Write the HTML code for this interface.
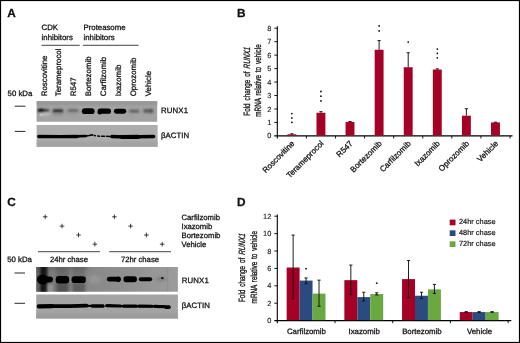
<!DOCTYPE html>
<html lang="en"><head><meta charset="utf-8"><title>RUNX1 figure</title>
<style>html,body{margin:0;padding:0;background:#fff;}body{width:520px;height:343px;overflow:hidden;}svg{display:block;}text{font-family:"Liberation Sans", Arial, Helvetica, sans-serif;fill:#111;stroke:#111;stroke-width:0.28px;text-rendering:geometricPrecision;}text.t{stroke-width:0.1px;}text.l{stroke-width:0.18px;}text.n{stroke-width:0.32px;}</style></head><body>
<svg width="520" height="343" viewBox="0 0 520 343">
<defs>
<filter id="b1" filterUnits="userSpaceOnUse" x="0" y="0" width="520" height="343"><feGaussianBlur stdDeviation="0.9"/></filter>
<filter id="b2" filterUnits="userSpaceOnUse" x="0" y="0" width="520" height="343"><feGaussianBlur stdDeviation="1.5"/></filter>
<filter id="b3" filterUnits="userSpaceOnUse" x="0" y="0" width="520" height="343"><feGaussianBlur stdDeviation="0.7"/></filter>
<filter id="b0" filterUnits="userSpaceOnUse" x="0" y="0" width="520" height="343"><feGaussianBlur stdDeviation="0.55"/></filter>
<linearGradient id="gC1" x1="0" x2="1" y1="0" y2="0"><stop offset="0" stop-color="#747474"/><stop offset="0.3" stop-color="#868686"/><stop offset="0.6" stop-color="#8e8e8e"/><stop offset="1" stop-color="#9c9c9c"/></linearGradient>
<clipPath id="cA1"><rect x="36.6" y="101.3" width="120.6" height="20.4"/></clipPath>
<clipPath id="cA2"><rect x="36.6" y="124.9" width="121" height="21.9"/></clipPath>
<clipPath id="cC1"><rect x="36.2" y="266.9" width="141.7" height="24.8"/></clipPath>
<clipPath id="cC2"><rect x="36.2" y="294.4" width="141.7" height="24"/></clipPath>
</defs>
<rect x="0" y="0" width="520" height="343" fill="#fff"/>
<rect x="0.55" y="0.55" width="518.9" height="341.9" fill="none" stroke="#000" stroke-width="1.1"/>
<text x="7.2" y="16.9" font-size="11.8" text-anchor="start" font-weight="bold" fill="#000" stroke="#000" stroke-width="0.5">A</text>
<text x="237.0" y="16.9" font-size="11.8" text-anchor="start" font-weight="bold" fill="#000" stroke="#000" stroke-width="0.5">B</text>
<text x="7.2" y="206.4" font-size="11.8" text-anchor="start" font-weight="bold" fill="#000" stroke="#000" stroke-width="0.5">C</text>
<text x="237.0" y="206.4" font-size="11.8" text-anchor="start" font-weight="bold" fill="#000" stroke="#000" stroke-width="0.5">D</text>
<text x="41.6" y="30.4" font-size="7.8" text-anchor="start" >CDK</text>
<text x="41.6" y="40" font-size="7.8" text-anchor="start" >inhibitors</text>
<text x="83.5" y="30.4" font-size="7.8" text-anchor="start" >Proteasome</text>
<text x="83.5" y="40" font-size="7.8" text-anchor="start" >inhibitors</text>
<path d="M41.6 45.3H79.7M82.9 45.3H138.5" stroke="#111" stroke-width="0.8" fill="none"/>
<text transform="translate(46.60 96.3) rotate(-90)" font-size="7.9">Roscovitine</text>
<text transform="translate(61.45 96.3) rotate(-90)" font-size="7.9">Terameprocol</text>
<text transform="translate(76.30 96.3) rotate(-90)" font-size="7.9">R547</text>
<text transform="translate(91.15 96.3) rotate(-90)" font-size="7.9">Bortezomib</text>
<text transform="translate(106.00 96.3) rotate(-90)" font-size="7.9">Carfilzomib</text>
<text transform="translate(120.85 96.3) rotate(-90)" font-size="7.9">Ixazomib</text>
<text transform="translate(135.70 96.3) rotate(-90)" font-size="7.9">Oprozomib</text>
<text transform="translate(150.55 96.3) rotate(-90)" font-size="7.9">Vehicle</text>
<text x="7.6" y="96.0" font-size="7.8" text-anchor="start" >50 kDa</text>
<path d="M14.8 106.2H25.4M14.8 131.4H25.4" stroke="#111" stroke-width="0.9" fill="none"/>
<text x="161" y="113.2" font-size="7.8" text-anchor="start" letter-spacing="0.15">RUNX1</text>
<text x="161" y="138.1" font-size="7.8" text-anchor="start" letter-spacing="0.05">&#946;ACTIN</text>
<g clip-path="url(#cA1)">
<rect x="36" y="100" width="123" height="23" fill="#a2a2a2"/>
<rect x="36" y="99" width="123" height="6" fill="#969696" filter="url(#b2)"/>
<rect x="38.10" y="109.20" width="10.80" height="2.80" rx="1.40" fill="#1c1c1c" opacity="0.9" filter="url(#b1)"/>
<rect x="38.25" y="109.10" width="5.50" height="2.80" rx="1.40" fill="#000" opacity="0.85" filter="url(#b1)"/>
<rect x="39.00" y="112.35" width="11.00" height="3.50" rx="1.75" fill="#c4c4c4" opacity="0.8" filter="url(#b2)"/>
<rect x="40.40" y="114.20" width="1.60" height="1.40" rx="0.70" fill="#e8e8e8" opacity="0.9" filter="url(#b0)"/>
<rect x="52.70" y="109.30" width="10.60" height="3.20" rx="1.60" fill="#1e1e1e" opacity="0.9" filter="url(#b1)"/>
<rect x="53.00" y="112.80" width="10.00" height="3.00" rx="1.50" fill="#808080" opacity="0.6" filter="url(#b2)"/>
<rect x="67.60" y="109.30" width="10.80" height="2.60" rx="1.30" fill="#505050" opacity="0.8" filter="url(#b1)"/>
<rect x="68.00" y="112.30" width="10.00" height="3.00" rx="1.50" fill="#909090" opacity="0.5" filter="url(#b2)"/>
<rect x="81.80" y="108.30" width="12.80" height="5.80" rx="2.90" fill="#000" opacity="1" filter="url(#b3)"/>
<rect x="97.60" y="108.60" width="13.40" height="5.20" rx="2.60" fill="#000" opacity="1" filter="url(#b3)"/>
<rect x="97.60" y="110.60" width="4.40" height="3.80" rx="1.90" fill="#000" opacity="1" filter="url(#b3)"/>
<rect x="113.90" y="108.75" width="12.40" height="4.90" rx="2.45" fill="#000" opacity="1" filter="url(#b3)"/>
<rect x="129.00" y="109.70" width="10.40" height="2.80" rx="1.40" fill="#484848" opacity="0.8" filter="url(#b1)"/>
<rect x="143.20" y="109.10" width="10.00" height="3.60" rx="1.80" fill="#484848" opacity="0.8" filter="url(#b1)"/>
<rect x="149.75" y="109.40" width="3.50" height="3.00" rx="1.50" fill="#404040" opacity="0.5" filter="url(#b1)"/>
</g>
<g clip-path="url(#cA2)">
<rect x="36" y="124" width="123" height="24" fill="#adadad"/>
<rect x="36" y="141" width="123" height="8" fill="#a2a2a2" filter="url(#b2)"/>
<g filter="url(#b0)" stroke="#000" fill="none" stroke-linecap="round" stroke-linejoin="round">
<path d="M38.8 136.5 L60 136.6 L77 136.5" stroke-width="3.4"/>
<path d="M75 136.4 L86 136" stroke-width="2.6"/>
<path d="M85 136 L89 135.5 L92.6 134.9" stroke-width="1.7"/>
<path d="M94.3 135.6 L95.3 135.7 M97.8 136.1 L99.4 136.2 M101.5 136.2 L104.5 136.3 M106.5 136.3 L109.5 136.4" stroke-width="1.5"/>
<path d="M111.8 136.6 L125 137 L140 136.8 L153.6 136.6" stroke-width="3.5"/>
<path d="M122 137 L138 136.9" stroke-width="4.2"/>
</g>
</g>
<path d="M277.30 26.2V138.50" stroke="#000" stroke-width="1.1" fill="none"/>
<path d="M274.30 135.90H512.5" stroke="#000" stroke-width="1.1" fill="none"/>
<path d="M274.30 122.44H277.30M274.30 108.98H277.30M274.30 95.52H277.30M274.30 82.06H277.30M274.30 68.60H277.30M274.30 55.14H277.30M274.30 41.68H277.30M274.30 28.22H277.30M306.39 135.90V138.50M335.48 135.90V138.50M364.57 135.90V138.50M393.66 135.90V138.50M422.75 135.90V138.50M451.84 135.90V138.50M480.93 135.90V138.50M510.02 135.90V138.50" stroke="#000" stroke-width="0.9" fill="none"/>
<text x="271.3" y="138.45000000000002" font-size="7.4" text-anchor="end" class="t">0</text>
<text x="271.3" y="124.99" font-size="7.4" text-anchor="end" class="t">1</text>
<text x="271.3" y="111.53" font-size="7.4" text-anchor="end" class="t">2</text>
<text x="271.3" y="98.07000000000001" font-size="7.4" text-anchor="end" class="t">3</text>
<text x="271.3" y="84.61" font-size="7.4" text-anchor="end" class="t">4</text>
<text x="271.3" y="71.14999999999999" font-size="7.4" text-anchor="end" class="t">5</text>
<text x="271.3" y="57.69" font-size="7.4" text-anchor="end" class="t">6</text>
<text x="271.3" y="44.230000000000004" font-size="7.4" text-anchor="end" class="t">7</text>
<text x="271.3" y="30.77" font-size="7.4" text-anchor="end" class="t">8</text>
<text transform="translate(249.6 115.70) rotate(-90) scale(0.697 1)" font-size="9.1" class="n" word-spacing="1.6">Fold change of</text>
<text transform="translate(249.6 68.70) rotate(-90) scale(0.697 1) skewX(-8)" font-size="9.1" font-style="italic" class="n">RUNX1</text>
<text transform="translate(260.7 80.5) rotate(-90) scale(0.697 1)" font-size="9.1" text-anchor="middle" class="n" word-spacing="1.6">mRNA relative to vehicle</text>
<rect x="287.40" y="134.28" width="8.90" height="1.12" fill="#a50026"/>
<path d="M291.85 134.28V133.75M290.25 133.75H293.45" stroke="#111" stroke-width="0.95" fill="none"/>
<circle cx="291.85" cy="122.44" r="0.9" fill="#111"/>
<circle cx="291.85" cy="118.00" r="0.9" fill="#111"/>
<circle cx="291.85" cy="113.56" r="0.9" fill="#111"/>
<text transform="translate(295.05 144.1) rotate(-45)" font-size="8.05" text-anchor="end">Roscovitine</text>
<rect x="316.49" y="112.75" width="8.90" height="22.65" fill="#a50026"/>
<path d="M320.94 112.75V111.67M319.33 111.67H322.54" stroke="#111" stroke-width="0.95" fill="none"/>
<circle cx="320.94" cy="100.90" r="0.9" fill="#111"/>
<circle cx="320.94" cy="96.19" r="0.9" fill="#111"/>
<circle cx="320.94" cy="91.48" r="0.9" fill="#111"/>
<text transform="translate(324.13 144.1) rotate(-45)" font-size="8.05" text-anchor="end">Terameprocol</text>
<rect x="345.57" y="122.04" width="8.90" height="13.36" fill="#a50026"/>
<path d="M350.02 122.04V121.50M348.42 121.50H351.62" stroke="#111" stroke-width="0.95" fill="none"/>
<text transform="translate(353.22 144.1) rotate(-45)" font-size="8.05" text-anchor="end">R547</text>
<rect x="374.67" y="49.76" width="8.90" height="85.64" fill="#a50026"/>
<path d="M379.12 49.76V40.60M377.51 40.60H380.72" stroke="#111" stroke-width="0.95" fill="none"/>
<circle cx="379.12" cy="30.91" r="0.9" fill="#111"/>
<circle cx="379.12" cy="25.93" r="0.9" fill="#111"/>
<text transform="translate(382.31 144.1) rotate(-45)" font-size="8.05" text-anchor="end">Bortezomib</text>
<rect x="403.76" y="67.25" width="8.90" height="68.15" fill="#a50026"/>
<path d="M408.21 67.25V52.72M406.61 52.72H409.81" stroke="#111" stroke-width="0.95" fill="none"/>
<circle cx="408.21" cy="42.08" r="0.9" fill="#111"/>
<text transform="translate(411.41 144.1) rotate(-45)" font-size="8.05" text-anchor="end">Carfilzomib</text>
<rect x="432.85" y="69.54" width="8.90" height="65.86" fill="#a50026"/>
<path d="M437.30 69.54V68.87M435.69 68.87H438.90" stroke="#111" stroke-width="0.95" fill="none"/>
<circle cx="437.30" cy="57.83" r="0.9" fill="#111"/>
<circle cx="437.30" cy="53.39" r="0.9" fill="#111"/>
<circle cx="437.30" cy="49.08" r="0.9" fill="#111"/>
<text transform="translate(440.50 144.1) rotate(-45)" font-size="8.05" text-anchor="end">Ixazomib</text>
<rect x="461.94" y="115.71" width="8.90" height="19.69" fill="#a50026"/>
<path d="M466.38 115.71V108.71M464.78 108.71H467.99" stroke="#111" stroke-width="0.95" fill="none"/>
<text transform="translate(469.58 144.1) rotate(-45)" font-size="8.05" text-anchor="end">Oprozomib</text>
<rect x="491.03" y="122.44" width="8.90" height="12.96" fill="#a50026"/>
<path d="M495.48 122.44V122.17M493.88 122.17H497.08" stroke="#111" stroke-width="0.95" fill="none"/>
<text transform="translate(498.68 144.1) rotate(-45)" font-size="8.05" text-anchor="end">Vehicle</text>
<path d="M42.90 216.80H47.50M45.20 214.50V219.10M59.70 226.10H64.30M62.00 223.80V228.40M76.20 235.00H80.80M78.50 232.70V237.30M92.60 244.20H97.20M94.90 241.90V246.50M112.10 216.80H116.70M114.40 214.50V219.10M128.30 226.10H132.90M130.60 223.80V228.40M144.10 235.00H148.70M146.40 232.70V237.30M159.90 244.20H164.50M162.20 241.90V246.50" stroke="#111" stroke-width="0.8" fill="none"/>
<text x="181.5" y="219.6" font-size="7.7" text-anchor="start" >Carfilzomib</text>
<text x="181.5" y="228.7" font-size="7.7" text-anchor="start" >Ixazomib</text>
<text x="181.5" y="237.6" font-size="7.7" text-anchor="start" >Bortezomib</text>
<text x="181.5" y="246.6" font-size="7.7" text-anchor="start" >Vehicle</text>
<path d="M38.1 251.7H99.9M109.2 251.7H171" stroke="#111" stroke-width="0.8" fill="none"/>
<text x="68.9" y="262" font-size="7.7" text-anchor="middle" >24hr chase</text>
<text x="140" y="262" font-size="7.7" text-anchor="middle" >72hr chase</text>
<text x="7.2" y="262" font-size="7.8" text-anchor="start" >50 kDa</text>
<path d="M14.5 273H25M14.5 303.3H25" stroke="#111" stroke-width="0.9" fill="none"/>
<text x="181.7" y="282.5" font-size="7.8" text-anchor="start" letter-spacing="0.15">RUNX1</text>
<text x="181.7" y="308" font-size="7.8" text-anchor="start" letter-spacing="0.05">&#946;ACTIN</text>
<g clip-path="url(#cC1)">
<rect x="35" y="266" width="144" height="27" fill="url(#gC1)"/>
<rect x="36" y="262" width="52" height="8" fill="#606060" opacity="0.55" filter="url(#b2)"/>
<rect x="40" y="258" width="7.2" height="40" fill="#101010" opacity="0.9" filter="url(#b1)"/>
<rect x="36" y="264" width="3.4" height="30" fill="#4a4a4a" opacity="0.6" filter="url(#b1)"/>
<rect x="47" y="284.5" width="6" height="9" fill="#b0b0b0" opacity="0.45" filter="url(#b1)"/>
<rect x="56.5" y="264" width="12" height="30" fill="#505050" opacity="0.4" filter="url(#b2)"/>
<rect x="72.5" y="264" width="12.5" height="30" fill="#505050" opacity="0.35" filter="url(#b2)"/>
<rect x="56.5" y="283" width="12" height="10" fill="#3c3c3c" opacity="0.5" filter="url(#b2)"/>
<rect x="73" y="283" width="12" height="10" fill="#484848" opacity="0.45" filter="url(#b2)"/>
<rect x="37.40" y="276.60" width="15.60" height="6.00" rx="3.00" fill="#000" opacity="1" filter="url(#b0)"/>
<rect x="37.00" y="274.80" width="11.20" height="9.60" rx="4.80" fill="#000" opacity="1" filter="url(#b0)"/>
<rect x="55.70" y="275.90" width="13.40" height="7.60" rx="3.00" fill="#000" opacity="1" filter="url(#b0)"/>
<rect x="71.60" y="276.30" width="14.20" height="6.80" rx="2.80" fill="#000" opacity="1" filter="url(#b0)"/>
<rect x="89.00" y="276.10" width="12.00" height="7.00" rx="3.50" fill="#a8a8a8" opacity="0.55" filter="url(#b2)"/>
<rect x="90.00" y="278.30" width="10.00" height="2.20" rx="1.10" fill="#7a7a7a" opacity="0.4" filter="url(#b2)"/>
<rect x="106.90" y="276.85" width="13.80" height="4.70" rx="2.35" fill="#000" opacity="1" filter="url(#b0)"/>
<rect x="115.80" y="276.40" width="5.00" height="5.60" rx="2.80" fill="#000" opacity="1" filter="url(#b0)"/>
<rect x="123.50" y="276.25" width="13.40" height="5.90" rx="2.60" fill="#000" opacity="1" filter="url(#b0)"/>
<rect x="138.80" y="277.30" width="13.40" height="4.00" rx="2.00" fill="#000" opacity="1" filter="url(#b0)"/>
<rect x="156.00" y="277.30" width="10.00" height="3.40" rx="1.70" fill="#6a6a6a" opacity="0.55" filter="url(#b2)"/>
<rect x="160.90" y="277.00" width="2.80" height="2.20" rx="1.10" fill="#111" opacity="0.9" filter="url(#b0)"/>
<path d="M167.6 267V292" stroke="#808080" stroke-width="0.8" opacity="0.5" filter="url(#b0)"/>
</g>
<g clip-path="url(#cC2)">
<rect x="35" y="294" width="144" height="25" fill="#a4a4a4"/>
<rect x="35" y="313" width="144" height="8" fill="#9c9c9c" filter="url(#b2)"/>
<g filter="url(#b0)" stroke="#000" fill="none" stroke-linecap="round" stroke-linejoin="round">
<path d="M38.8 306.4 L52 306.2" stroke-width="4.3"/>
<path d="M50 306.2 L70 306.1 L86.5 305.7" stroke-width="3.8"/>
<path d="M88.6 305.9 L89.6 305.9" stroke-width="2.4"/>
<path d="M92 305.9 L103 306.1" stroke-width="3.5"/>
<path d="M106.8 305.6 L120.5 306" stroke-width="3.1"/>
<path d="M123.5 306.2 L136.3 306.2" stroke-width="3.3"/>
<path d="M139 306.1 L152 306.2" stroke-width="3.1"/>
<path d="M154.8 306.4 L165 306.8" stroke-width="3.1"/>
<path d="M166 307.2 L169 307.2" stroke-width="3.6"/>
<path d="M86 305.8 L104 306 M105.5 306 L170 306.5" stroke-width="1.8" stroke-linecap="butt"/>
</g>
</g>
<path d="M277.30 214.5V323.20" stroke="#000" stroke-width="1.1" fill="none"/>
<path d="M274.30 320.60H511.3" stroke="#000" stroke-width="1.1" fill="none"/>
<path d="M274.30 303.20H277.30M274.30 285.80H277.30M274.30 268.40H277.30M274.30 251.00H277.30M274.30 233.60H277.30M274.30 216.20H277.30M335.00 320.60V323.20M392.70 320.60V323.20M450.40 320.60V323.20M508.10 320.60V323.20" stroke="#000" stroke-width="0.9" fill="none"/>
<text x="271.3" y="323.15000000000003" font-size="7.4" text-anchor="end" class="t">0</text>
<text x="271.3" y="305.75000000000006" font-size="7.4" text-anchor="end" class="t">2</text>
<text x="271.3" y="288.35" font-size="7.4" text-anchor="end" class="t">4</text>
<text x="271.3" y="270.95000000000005" font-size="7.4" text-anchor="end" class="t">6</text>
<text x="271.3" y="253.55000000000004" font-size="7.4" text-anchor="end" class="t">8</text>
<text x="271.3" y="236.15000000000003" font-size="7.4" text-anchor="end" class="t">10</text>
<text x="271.3" y="218.75000000000006" font-size="7.4" text-anchor="end" class="t">12</text>
<text transform="translate(245.4 302.00) rotate(-90) scale(0.697 1)" font-size="9.1" class="n" word-spacing="1.6">Fold change of</text>
<text transform="translate(245.4 255.00) rotate(-90) scale(0.697 1) skewX(-8)" font-size="9.1" font-style="italic" class="n">RUNX1</text>
<text transform="translate(256.7 267.2) rotate(-90) scale(0.697 1)" font-size="9.1" text-anchor="middle" class="n" word-spacing="1.6">mRNA relative to vehicle</text>
<rect x="286.65" y="267.53" width="12.95" height="52.57" fill="#a50026"/>
<rect x="299.60" y="280.58" width="12.95" height="39.52" fill="#2b4a80"/>
<rect x="312.55" y="293.63" width="12.95" height="26.47" fill="#6aa842"/>
<path d="M293.13 298.85V235.08M291.53 235.08H294.73M291.53 298.85H294.73" stroke="#111" stroke-width="0.95" fill="none"/>
<path d="M306.08 283.62V277.97M304.48 277.97H307.68M304.48 283.62H307.68" stroke="#111" stroke-width="0.95" fill="none"/>
<circle cx="306.08" cy="268.66" r="0.9" fill="#111"/>
<path d="M319.03 306.25V280.15M317.43 280.15H320.63M317.43 306.25H320.63" stroke="#111" stroke-width="0.95" fill="none"/>
<text x="306.45" y="333.6" font-size="7.8" text-anchor="middle" >Carfilzomib</text>
<rect x="344.35" y="280.15" width="12.95" height="39.95" fill="#a50026"/>
<rect x="357.30" y="297.11" width="12.95" height="22.99" fill="#2b4a80"/>
<rect x="370.25" y="294.07" width="12.95" height="26.03" fill="#6aa842"/>
<path d="M350.83 294.67V265.09M349.23 265.09H352.43M349.23 294.67H352.43" stroke="#111" stroke-width="0.95" fill="none"/>
<path d="M363.78 301.03V292.24M362.18 292.24H365.38M362.18 301.03H365.38" stroke="#111" stroke-width="0.95" fill="none"/>
<path d="M376.73 294.94V292.76M375.12 292.76H378.33M375.12 294.94H378.33" stroke="#111" stroke-width="0.95" fill="none"/>
<circle cx="376.73" cy="283.19" r="0.9" fill="#111"/>
<text x="364.15" y="333.6" font-size="7.8" text-anchor="middle" >Ixazomib</text>
<rect x="402.05" y="279.10" width="12.95" height="41.00" fill="#a50026"/>
<rect x="415.00" y="295.72" width="12.95" height="24.38" fill="#2b4a80"/>
<rect x="427.95" y="289.37" width="12.95" height="30.73" fill="#6aa842"/>
<path d="M408.53 297.72V260.57M406.93 260.57H410.13M406.93 297.72H410.13" stroke="#111" stroke-width="0.95" fill="none"/>
<path d="M421.48 298.50V292.24M419.88 292.24H423.08M419.88 298.50H423.08" stroke="#111" stroke-width="0.95" fill="none"/>
<path d="M434.43 293.46V284.41M432.83 284.41H436.03M432.83 293.46H436.03" stroke="#111" stroke-width="0.95" fill="none"/>
<text x="421.85" y="333.6" font-size="7.8" text-anchor="middle" >Bortezomib</text>
<rect x="459.75" y="312.07" width="12.95" height="8.03" fill="#a50026"/>
<rect x="472.70" y="312.07" width="12.95" height="8.03" fill="#2b4a80"/>
<rect x="485.65" y="312.07" width="12.95" height="8.03" fill="#6aa842"/>
<path d="M466.23 312.34V311.64M464.63 311.64H467.83M464.63 312.34H467.83" stroke="#111" stroke-width="0.95" fill="none"/>
<path d="M479.18 312.34V311.64M477.58 311.64H480.78M477.58 312.34H480.78" stroke="#111" stroke-width="0.95" fill="none"/>
<path d="M492.13 312.34V311.64M490.53 311.64H493.73M490.53 312.34H493.73" stroke="#111" stroke-width="0.95" fill="none"/>
<text x="479.55" y="333.6" font-size="7.8" text-anchor="middle" >Vehicle</text>
<rect x="449.7" y="219.60" width="5.8" height="5.7" fill="#a50026"/>
<text x="459" y="224.4" font-size="7.4" text-anchor="start" class="l">24hr chase</text>
<rect x="449.7" y="230.30" width="5.8" height="5.7" fill="#2b4a80"/>
<text x="459" y="235.1" font-size="7.4" text-anchor="start" class="l">48hr chase</text>
<rect x="449.7" y="241.30" width="5.8" height="5.7" fill="#6aa842"/>
<text x="459" y="246.1" font-size="7.4" text-anchor="start" class="l">72hr chase</text>
</svg></body></html>
